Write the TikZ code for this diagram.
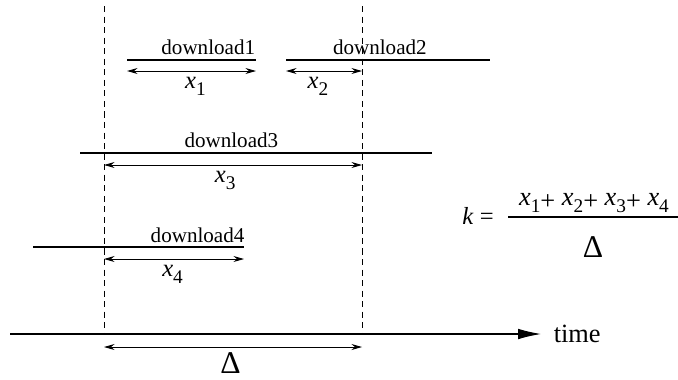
\documentclass[tikz,border=0pt]{standalone}
\usepackage{fontspec}
\setmainfont{Liberation Serif}
\usetikzlibrary{arrows.meta}
\newcommand{\xs}[1]{\textit{x}\raisebox{-4pt}{\fontsize{11}{11}\selectfont #1}}
\newcommand{\pl}{\raisebox{-2.5pt}{+}}
\tikzset{
  every node/.style={font=\fontsize{12}{14}\selectfont},
  span/.style={{Stealth[length=6pt,width=3.4pt,inset=2pt]}-{Stealth[length=6pt,width=3.4pt,inset=2pt]}, line width=0.5pt},
  guide/.style={dashed, dash pattern=on 3.5pt off 2.5pt, line width=0.5pt},
  dl/.style={line width=0.6pt},
  lbl/.style={font=\fontsize{14}{16}\selectfont, inner sep=2pt},
  big/.style={font=\fontsize{18}{20}\selectfont}
}
\begin{document}
\begin{tikzpicture}[x=0.02cm, y=-0.02cm]
\useasboundingbox (0,0) rectangle (678,379);
% window limits
\coordinate (wl) at (104,334);
\coordinate (wr) at (362,334);
\draw[guide] (104,6) -- (wl);
\draw[guide] (362,6) -- (wr);
% download1
\draw[dl] (127,60) -- (256,60) node[pos=0.63, above, inner sep=3pt] {download1};
\draw[span] (127,71) -- (256,71) node[pos=0.53, below, lbl, inner sep=3pt] {\xs{1}};
% download2
\draw[dl] (286,60) -- (490,60) node[pos=0.46, above, inner sep=3pt] {download2};
\draw[span] (286,71) -- (362,71) node[pos=0.42, below, lbl, inner sep=3pt] {\xs{2}};
% download3
\draw[dl] (80,153) -- (432,153) node[pos=0.43, above, inner sep=3pt] {download3};
\draw[span] (104,165) -- (362,165) node[pos=0.47, below, lbl, inner sep=3pt] {\xs{3}};
% download4
\draw[dl] (33,247) -- (244,247) node[pos=0.78, above, inner sep=2pt] {download4};
\draw[span] (104,259) -- (244,259) node[pos=0.49, below, lbl, inner sep=3pt] {\xs{4}};
% time axis
\coordinate (t0) at (10,334);
\coordinate (t1) at (541,334);
\draw[line width=0.6pt, -{Latex[length=13pt,width=6pt]}] (t0) -- (t1)
  node[right, font=\fontsize{15}{17}\selectfont, inner sep=7pt] (time) {time};
% interval
\draw[span] (104,347) -- (362,347) node[pos=0.49, below, big, inner sep=3pt] (delta) {Δ};
% formula
\node[lbl, anchor=base east, inner sep=0pt] (k) at (494,224) {\textit{k} =};
\node[font=\fontsize{15}{17}\selectfont, anchor=base] (num) at (594,205) {\xs{1}\pl\ \xs{2}\pl\ \xs{3}\pl\ \xs{4}};
\draw[line width=0.6pt] (508,217) -- (678,217);
\node[big, anchor=base] (den) at (593,257) {Δ};
\end{tikzpicture}
\end{document}
